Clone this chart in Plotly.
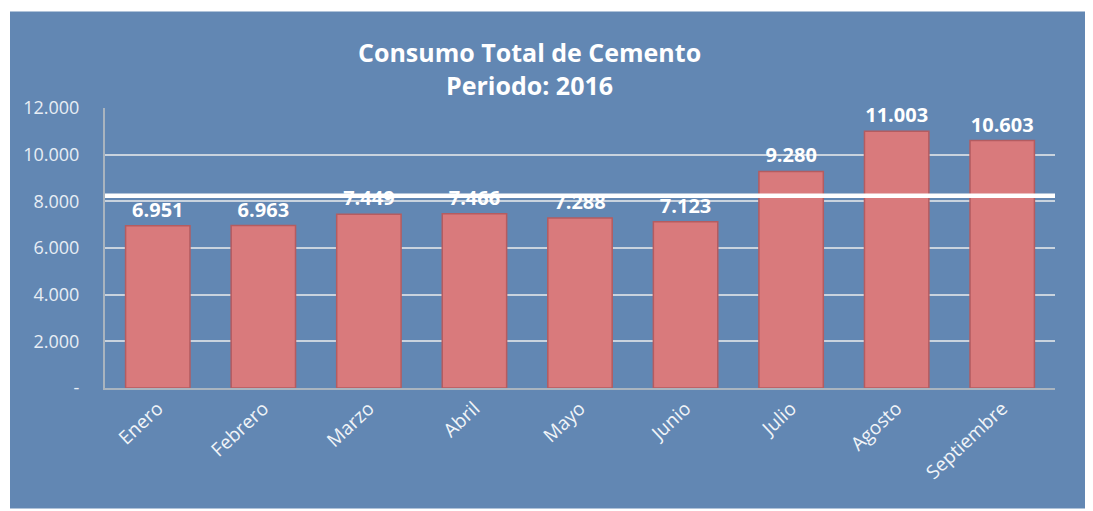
import plotly.graph_objects as go

meses = ["Enero", "Febrero", "Marzo", "Abril", "Mayo", "Junio", "Julio", "Agosto", "Septiembre"]
consumo = [6951, 6963, 7449, 7466, 7288, 7123, 9280, 11003, 10603]
etiquetas = ["6.951", "6.963", "7.449", "7.466", "7.288", "7.123", "9.280", "11.003", "10.603"]
promedio = 8236
y_ticks = [0, 2000, 4000, 6000, 8000, 10000, 12000]
y_ticktext = ["-", "2.000", "4.000", "6.000", "8.000", "10.000", "12.000"]

BG = "#6287b3"
FONT = "Open Sans"

fig = go.Figure()
fig.add_trace(go.Bar(
    x=meses, y=consumo, text=etiquetas, textposition="outside",
    textfont=dict(family=FONT, size=20, color="white", weight="bold"),
    marker=dict(color="#d97a7c", line=dict(color="#b45c60", width=1.5)),
    cliponaxis=False, showlegend=False,
))

fig.add_shape(type="rect", xref="paper", yref="paper", x0=-0.1, x1=1.032, y0=-0.43, y1=1.345,
              fillcolor=BG, line=dict(width=0), layer="below")
fig.add_shape(type="line", xref="paper", yref="y", x0=0, x1=1, y0=promedio, y1=promedio,
              line=dict(color="white", width=4.5), layer="above")

fig.add_annotation(text="Consumo Total de Cemento", xref="paper", yref="paper",
                   x=(521 - 97) / 950, y=(380 - 44) / 280, showarrow=False,
                   xanchor="center", yanchor="middle",
                   font=dict(family=FONT, size=25, color="white", weight="bold"))
fig.add_annotation(text="Periodo: 2016", xref="paper", yref="paper",
                   x=(521 - 97) / 950, y=(380 - 77) / 280, showarrow=False,
                   xanchor="center", yanchor="middle",
                   font=dict(family=FONT, size=25, color="white", weight="bold"))

fig.update_layout(
    width=1093, height=511,
    margin=dict(l=97, r=46, t=100, b=131),
    paper_bgcolor="white", plot_bgcolor=BG,
    separators=",.",
    bargap=0.39,
    xaxis=dict(tickangle=-43, tickfont=dict(family=FONT, size=19, color="#f0f4f8"),
               showline=True, linecolor="#a9b4bf", linewidth=2, showgrid=False, ticks=""),
    yaxis=dict(range=[0, 12000], tickvals=y_ticks, ticktext=y_ticktext,
               tickfont=dict(family=FONT, size=18, color="#e8eef5"),
               showgrid=True, gridcolor="#c9d3de", gridwidth=2,
               showline=True, linecolor="#a9b4bf", linewidth=2, zeroline=False,
               ticks="", ticklabelstandoff=20),
)

fig.write_html("out.html")
